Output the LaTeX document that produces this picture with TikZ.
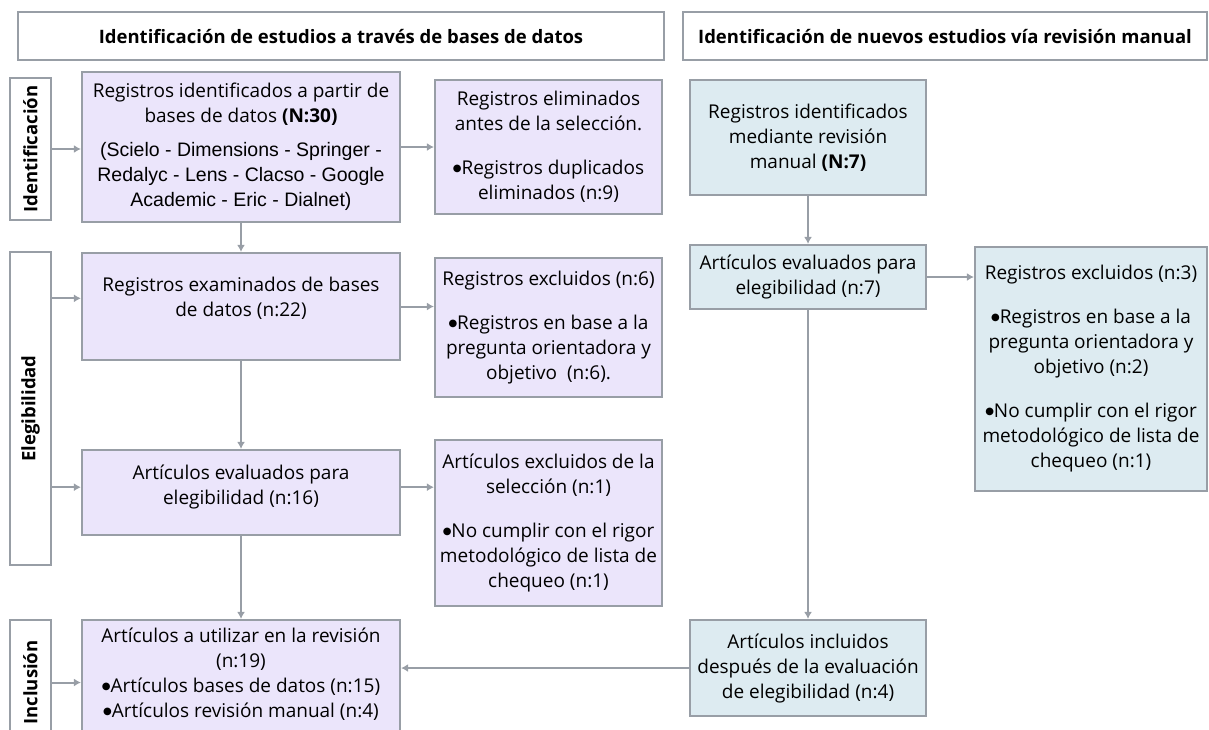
\documentclass[tikz,border=0pt]{standalone}
\usepackage{fontspec}
\setmainfont{Open Sans}
\newfontfamily\arialfont{Liberation Sans}
\newfontfamily\symfont{DejaVu Sans}
\usepackage{tikz}
\usetikzlibrary{arrows.meta,positioning}
\definecolor{linegray}{HTML}{989EA6}
\definecolor{dbfill}{HTML}{EBE5FB}
\definecolor{manfill}{HTML}{DDEBF1}
\newcommand{\bul}{\raisebox{3.2pt}{\symfont\fontsize{10}{10}\selectfont ●}}
\newcommand{\ar}{\arialfont\fontsize{19.5}{25}\selectfont}

\begin{document}
\begin{tikzpicture}[x=1pt,y=-1pt,
        box/.style={draw=linegray, line width=2.2pt, inner xsep=1pt, inner ysep=3pt, align=center, font=\fontsize{19}{25}\selectfont},
        dbbox/.style={box, fill=dbfill},
        manbox/.style={box, fill=manfill},
        headbox/.style={box, fill=white, minimum height=48, font=\fontsize{18.5}{22}\selectfont\bfseries},
        phasebox/.style={box, fill=white, rotate=90, minimum height=41, font=\fontsize{18.5}{22}\selectfont\bfseries},
        txt/.style={align=center, inner sep=0pt, font=\fontsize{19}{25}\selectfont},
        flow/.style={draw=linegray, line width=2pt, -{Latex[length=7pt,width=8pt]}}]
        \useasboundingbox (0,0) rectangle (1209,729);
        \clip (0,0) rectangle (1209,729);

        \node[headbox, minimum width=646] (head1) at (341,36) {Identificación de estudios a través de bases de datos};
        \node[headbox, minimum width=524] (head2) at (945,36) {Identificación de nuevos estudios vía revisión manual};

        \node[phasebox, minimum width=142] (lab1) at (30.5,149) {Identificación};
        \node[phasebox, minimum width=313] (lab2) at (30.5,408.5) {Elegibilidad};
        \node[phasebox, minimum width=125] (lab3) at (30.5,682.5) {Inclusión};

        \node[dbbox, minimum width=318, minimum height=150] (A) at (241,147) {Registros identificados a partir de\\ bases de datos \textbf{(N:30)}\\[9pt]
            \ar (Scielo - Dimensions - Springer -\\ \ar Redalyc - Lens - Clacso - Google\\ \ar Academic - Eric - Dialnet)};
        \node[dbbox, minimum width=227, minimum height=134] (B) at (548.5,147) {Registros eliminados\\ antes de la selección.\\[19pt] \bul Registros duplicados\\ eliminados (n:9)};
        \node[manbox, minimum width=236, minimum height=115] (M1) at (808,137.5) {Registros identificados\\ mediante revisión\\ manual \textbf{(N:7)}};

        \node[dbbox, minimum width=318, minimum height=107] (C) at (241,306.5) {};
        \node[txt, below=25pt of C.north] (Ct) {Registros examinados de bases\\ de datos (n:22)};
        \node[dbbox, minimum width=227, minimum height=139] (D) at (548.5,327.5) {Registros excluidos (n:6)\\[19pt] \bul Registros en base a la\\ pregunta orientadora y\\ objetivo~~(n:6).};
        \node[manbox, minimum width=236, minimum height=64] (M2) at (808,277) {Artículos evaluados para\\ elegibilidad (n:7)};
        \node[manbox, minimum width=232, minimum height=244] (M3) at (1091,369) {Registros excluidos (n:3)\\[19pt] \bul Registros en base a la\\ pregunta orientadora y\\ objetivo (n:2)\\[19pt] \bul No cumplir con el rigor\\ metodológico de lista de\\ chequeo (n:1)};

        \node[dbbox, minimum width=318, minimum height=85] (E) at (241,492.5) {};
        \node[txt, below=16pt of E.north] (Et) {Artículos evaluados para\\ elegibilidad (n:16)};
        \node[dbbox, minimum width=227, minimum height=166] (F) at (548.5,523) {Artículos excluidos de la\\ selección (n:1)\\[19pt] \bul No cumplir con el rigor\\ metodológico de lista de\\ chequeo (n:1)};

        \node[dbbox, minimum width=318, minimum height=125] (G) at (241,682.5) {};
        \node[txt, below=9pt of G.north] (Gt) {Artículos a utilizar en la revisión\\ (n:19)\\ \bul Artículos bases de datos (n:15)\\ \bul Artículos revisión manual (n:4)};
        \node[manbox, minimum width=236, minimum height=96] (M4) at (808,668) {Artículos incluidos\\ después de la evaluación\\ de elegibilidad (n:4)};

        \draw[flow] (lab1.south) -- (lab1.south -| A.west);
        \draw[flow] (A.east) -- (A.east -| B.west);
        \draw[flow] (A.south) -- (C.north);
        \draw[flow] (lab2.south |- Ct) -- (C.west |- Ct);
        \draw[flow] (C.east) -- (C.east -| D.west);
        \draw[flow] (C.south) -- (E.north);
        \draw[flow] (lab2.south |- Et) -- (E.west |- Et);
        \draw[flow] (E.east |- Et) -- (F.west |- Et);
        \draw[flow] (E.south) -- (G.north);
        \draw[flow] (lab3.south) -- (lab3.south -| G.west);
        \draw[flow] (M1.south) -- (M2.north);
        \draw[flow] (M2.east) -- (M2.east -| M3.west);
        \draw[flow] (M2.south) -- (M4.north);
        \draw[flow] (M4.west) -- (M4.west -| G.east);
\end{tikzpicture}
\end{document}
